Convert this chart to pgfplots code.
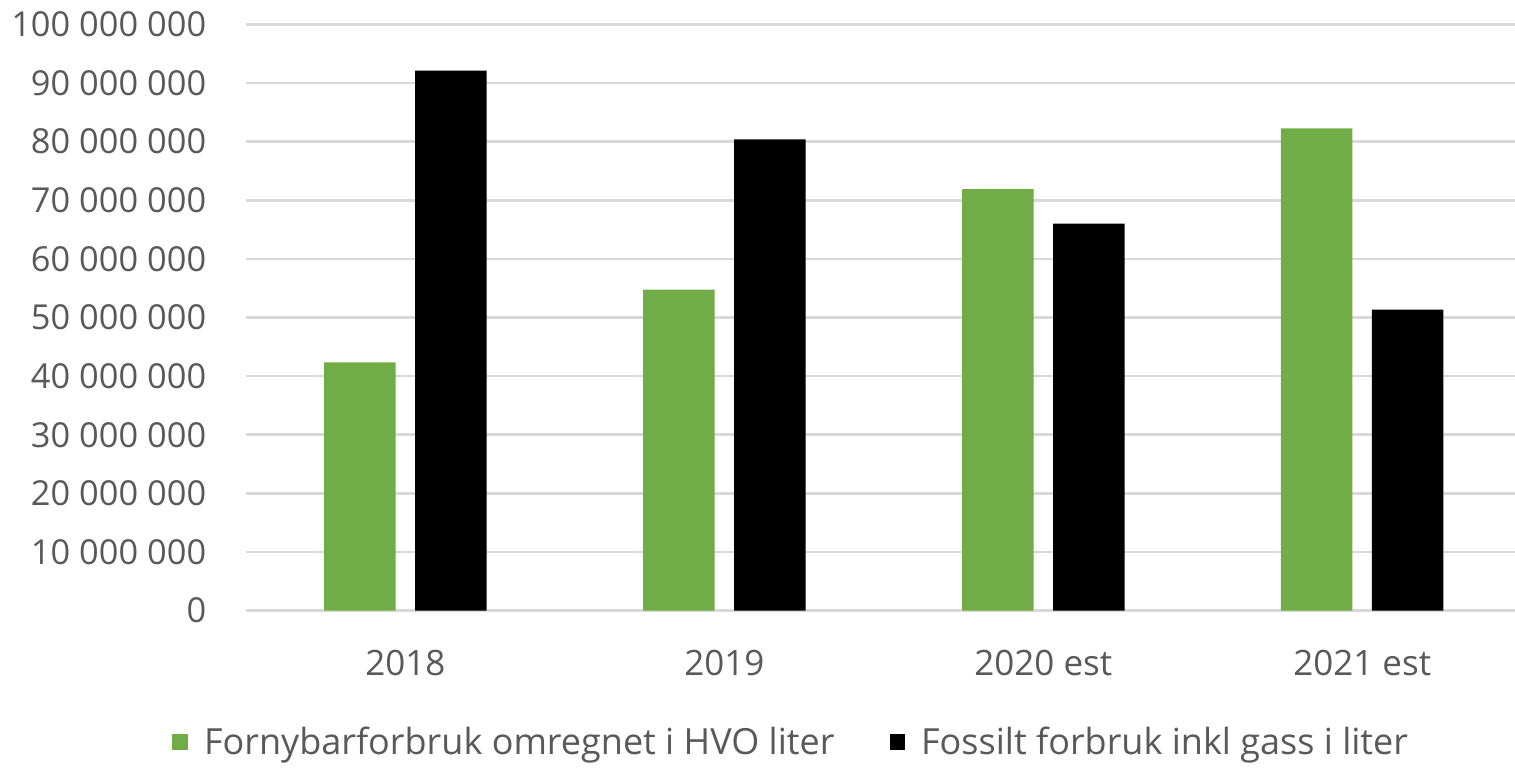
\documentclass[border=0pt]{standalone}
\usepackage{pgfplots}
\pgfplotsset{compat=1.18}
\usepackage{fontspec}
\setmainfont{Open Sans}
\definecolor{grn}{HTML}{70AD47}
\definecolor{lbl}{HTML}{595959}
\definecolor{grd}{HTML}{D9D9D9}
\begin{document}
\begin{tikzpicture}
\begin{axis}[
  name=ax,
  scale only axis,
  width=634.5pt, height=293.2pt,
  xmin=-0.5, xmax=3.479,
  ymin=0, ymax=100000000,
  ybar, bar width=35.75pt,
  xtick={0,1,2,3},
  xticklabels={2018,2019,2020 est,2021 est},
  ytick={0,10000000,20000000,30000000,40000000,50000000,60000000,70000000,80000000,90000000,100000000},
  yticklabels={0,10 000 000,20 000 000,30 000 000,40 000 000,50 000 000,60 000 000,70 000 000,80 000 000,90 000 000,100 000 000},
  scaled y ticks=false,
  /pgf/number format/assume math mode=true,
  axis line style={draw=none},
  major tick style={draw=none},
  ymajorgrids,
  grid style={grd, line width=1.3pt},
  tick label style={text=lbl},
  yticklabel style={font=\fontsize{17.2}{21}\selectfont, anchor=east, inner sep=0pt, xshift=-19.7pt},
  xticklabel style={font=\fontsize{17.5}{21}\selectfont, anchor=base, inner sep=0pt, yshift=-28pt},
  legend columns=2,
  legend style={at={(rel axis cs:-0.0583,-0.224)}, anchor=west, draw=none, fill=none,
    font=\fontsize{18}{21}\selectfont, text=lbl, inner sep=0pt,
    nodes={inner sep=0pt, anchor=west},
    /tikz/every even column/.append style={column sep=27.5pt},
    /tikz/every odd column/.append style={column sep=8pt}},
  legend image code/.code={\fill[#1, draw=none] (0pt,-3.9pt) rectangle (7.8pt,3.9pt);},
]
\addplot[fill=grn, draw=none, bar shift=-22.75pt] coordinates {(0,42360000) (1,54740000) (2,71910000) (3,82260000)};
\addplot[fill=black, draw=none, bar shift=22.75pt] coordinates {(0,92090000) (1,80390000) (2,66000000) (3,51330000)};
\legend{Fornybarforbruk omregnet i HVO liter, Fossilt forbruk inkl gass i liter}
\end{axis}
\pgfresetboundingbox
\path ([xshift=-123pt,yshift=-79.15pt]ax.south west) rectangle ([xshift=634.5pt,yshift=305.35pt]ax.south west);
\end{tikzpicture}
\end{document}
